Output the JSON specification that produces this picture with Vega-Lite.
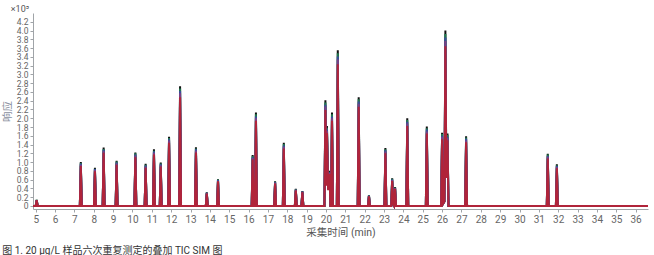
{
  "$schema": "https://vega.github.io/schema/vega-lite/v6.json",
  "autosize": "none",
  "width": 615,
  "height": 196,
  "padding": {"left": 33, "top": 13, "right": 6, "bottom": 46},
  "background": "white",
  "config": {
    "view": {"stroke": null},
    "font": "Roboto, 'Noto Sans CJK SC', sans-serif",
    "axis": {"domainColor": "#a0a4a8", "tickColor": "#a0a4a8", "labelColor": "#666", "labelFontSize": 10, "tickSize": 3, "grid": false, "titleFontWeight": "normal", "titleFontSize": 10.5}
  },
  "title": {"text": "图 1. 20 µg/L 样品六次重复测定的叠加 TIC SIM 图", "orient": "bottom", "anchor": "start", "fontSize": 10, "fontWeight": "normal", "color": "#333", "offset": 8},
  "layer": [
    {
      "data": {"values": [
        {"t":4.86,"a":0,"b":0,"c":0,"d":0,"e":0},
        {"t":5.00,"a":0,"b":0,"c":0,"d":0,"e":0},
        {"t":5.05,"a":0.14,"b":0.14,"c":0.13,"d":0.13,"e":0.13},
        {"t":5.10,"a":0,"b":0,"c":0,"d":0,"e":0},
        {"t":7.28,"a":0,"b":0,"c":0,"d":0,"e":0},
        {"t":7.33,"a":1.00,"b":0.98,"c":0.96,"d":0.94,"e":0.91},
        {"t":7.38,"a":0,"b":0,"c":0,"d":0,"e":0},
        {"t":8.01,"a":0,"b":0,"c":0,"d":0,"e":0},
        {"t":8.06,"a":0.87,"b":0.85,"c":0.84,"d":0.82,"e":0.79},
        {"t":8.11,"a":0,"b":0,"c":0,"d":0,"e":0},
        {"t":8.46,"a":0,"b":0,"c":0,"d":0,"e":0},
        {"t":8.51,"a":1.33,"b":1.30,"c":1.28,"d":1.25,"e":1.21},
        {"t":8.56,"a":0,"b":0,"c":0,"d":0,"e":0},
        {"t":9.13,"a":0,"b":0,"c":0,"d":0,"e":0},
        {"t":9.18,"a":1.03,"b":1.01,"c":0.99,"d":0.97,"e":0.94},
        {"t":9.23,"a":0,"b":0,"c":0,"d":0,"e":0},
        {"t":10.10,"a":0,"b":0,"c":0,"d":0,"e":0},
        {"t":10.15,"a":1.22,"b":1.20,"c":1.17,"d":1.15,"e":1.11},
        {"t":10.20,"a":0,"b":0,"c":0,"d":0,"e":0},
        {"t":10.63,"a":0,"b":0,"c":0,"d":0,"e":0},
        {"t":10.68,"a":0.96,"b":0.94,"c":0.92,"d":0.90,"e":0.87},
        {"t":10.73,"a":0,"b":0,"c":0,"d":0,"e":0},
        {"t":11.06,"a":0,"b":0,"c":0,"d":0,"e":0},
        {"t":11.11,"a":1.29,"b":1.26,"c":1.24,"d":1.21,"e":1.17},
        {"t":11.16,"a":0,"b":0,"c":0,"d":0,"e":0},
        {"t":11.41,"a":0,"b":0,"c":0,"d":0,"e":0},
        {"t":11.46,"a":0.99,"b":0.97,"c":0.95,"d":0.93,"e":0.90},
        {"t":11.51,"a":0,"b":0,"c":0,"d":0,"e":0},
        {"t":11.84,"a":0,"b":0,"c":0,"d":0,"e":0},
        {"t":11.89,"a":1.58,"b":1.55,"c":1.52,"d":1.49,"e":1.44},
        {"t":11.94,"a":0,"b":0,"c":0,"d":0,"e":0},
        {"t":12.41,"a":0,"b":0,"c":0,"d":0,"e":0},
        {"t":12.46,"a":2.73,"b":2.68,"c":2.62,"d":2.57,"e":2.48},
        {"t":12.51,"a":0,"b":0,"c":0,"d":0,"e":0},
        {"t":13.23,"a":0,"b":0,"c":0,"d":0,"e":0},
        {"t":13.28,"a":1.34,"b":1.31,"c":1.29,"d":1.26,"e":1.22},
        {"t":13.33,"a":0,"b":0,"c":0,"d":0,"e":0},
        {"t":13.79,"a":0,"b":0,"c":0,"d":0,"e":0},
        {"t":13.84,"a":0.31,"b":0.30,"c":0.30,"d":0.29,"e":0.28},
        {"t":13.89,"a":0,"b":0,"c":0,"d":0,"e":0},
        {"t":14.37,"a":0,"b":0,"c":0,"d":0,"e":0},
        {"t":14.42,"a":0.61,"b":0.60,"c":0.59,"d":0.57,"e":0.56},
        {"t":14.47,"a":0,"b":0,"c":0,"d":0,"e":0},
        {"t":16.16,"a":0,"b":0,"c":0,"d":0,"e":0},
        {"t":16.21,"a":1.16,"b":1.14,"c":1.11,"d":1.09,"e":1.06},
        {"t":16.26,"a":0,"b":0,"c":0,"d":0,"e":0},
        {"t":16.33,"a":0,"b":0,"c":0,"d":0,"e":0},
        {"t":16.38,"a":2.13,"b":2.09,"c":2.04,"d":2.00,"e":1.94},
        {"t":16.43,"a":0,"b":0,"c":0,"d":0,"e":0},
        {"t":17.32,"a":0,"b":0,"c":0,"d":0,"e":0},
        {"t":17.37,"a":0.56,"b":0.55,"c":0.54,"d":0.53,"e":0.51},
        {"t":17.42,"a":0,"b":0,"c":0,"d":0,"e":0},
        {"t":17.77,"a":0,"b":0,"c":0,"d":0,"e":0},
        {"t":17.82,"a":1.44,"b":1.41,"c":1.38,"d":1.35,"e":1.31},
        {"t":17.87,"a":0,"b":0,"c":0,"d":0,"e":0},
        {"t":18.39,"a":0,"b":0,"c":0,"d":0,"e":0},
        {"t":18.44,"a":0.39,"b":0.38,"c":0.37,"d":0.37,"e":0.35},
        {"t":18.49,"a":0,"b":0,"c":0,"d":0,"e":0},
        {"t":18.73,"a":0,"b":0,"c":0,"d":0,"e":0},
        {"t":18.78,"a":0.34,"b":0.33,"c":0.33,"d":0.32,"e":0.31},
        {"t":18.83,"a":0,"b":0,"c":0,"d":0,"e":0},
        {"t":19.92,"a":0,"b":0,"c":0,"d":0,"e":0},
        {"t":19.97,"a":2.41,"b":2.36,"c":2.31,"d":2.27,"e":2.19},
        {"t":20.01,"a":0.50,"b":0.49,"c":0.48,"d":0.47,"e":0.46},
        {"t":20.05,"a":1.82,"b":1.78,"c":1.75,"d":1.71,"e":1.66},
        {"t":20.11,"a":0.40,"b":0.39,"c":0.38,"d":0.38,"e":0.36},
        {"t":20.18,"a":0.80,"b":0.78,"c":0.77,"d":0.75,"e":0.73},
        {"t":20.23,"a":0,"b":0,"c":0,"d":0,"e":0},
        {"t":20.26,"a":0,"b":0,"c":0,"d":0,"e":0},
        {"t":20.31,"a":2.13,"b":2.09,"c":2.04,"d":2.00,"e":1.94},
        {"t":20.36,"a":0,"b":0,"c":0,"d":0,"e":0},
        {"t":20.56,"a":0,"b":0,"c":0,"d":0,"e":0},
        {"t":20.61,"a":3.55,"b":3.48,"c":3.41,"d":3.34,"e":3.23},
        {"t":20.66,"a":0,"b":0,"c":0,"d":0,"e":0},
        {"t":21.64,"a":0,"b":0,"c":0,"d":0,"e":0},
        {"t":21.69,"a":2.48,"b":2.43,"c":2.38,"d":2.33,"e":2.26},
        {"t":21.74,"a":0,"b":0,"c":0,"d":0,"e":0},
        {"t":22.17,"a":0,"b":0,"c":0,"d":0,"e":0},
        {"t":22.22,"a":0.24,"b":0.24,"c":0.23,"d":0.23,"e":0.22},
        {"t":22.27,"a":0,"b":0,"c":0,"d":0,"e":0},
        {"t":23.02,"a":0,"b":0,"c":0,"d":0,"e":0},
        {"t":23.07,"a":1.32,"b":1.29,"c":1.27,"d":1.24,"e":1.20},
        {"t":23.12,"a":0,"b":0,"c":0,"d":0,"e":0},
        {"t":23.37,"a":0,"b":0,"c":0,"d":0,"e":0},
        {"t":23.42,"a":0.63,"b":0.62,"c":0.60,"d":0.59,"e":0.57},
        {"t":23.48,"a":0.03,"b":0.03,"c":0.03,"d":0.03,"e":0.03},
        {"t":23.52,"a":0,"b":0,"c":0,"d":0,"e":0},
        {"t":23.57,"a":0.43,"b":0.42,"c":0.41,"d":0.40,"e":0.39},
        {"t":23.62,"a":0,"b":0,"c":0,"d":0,"e":0},
        {"t":24.15,"a":0,"b":0,"c":0,"d":0,"e":0},
        {"t":24.20,"a":2.00,"b":1.96,"c":1.92,"d":1.88,"e":1.82},
        {"t":24.25,"a":0,"b":0,"c":0,"d":0,"e":0},
        {"t":25.16,"a":0,"b":0,"c":0,"d":0,"e":0},
        {"t":25.21,"a":1.81,"b":1.77,"c":1.74,"d":1.70,"e":1.65},
        {"t":25.26,"a":0,"b":0,"c":0,"d":0,"e":0},
        {"t":25.95,"a":0,"b":0,"c":0,"d":0,"e":0},
        {"t":26.00,"a":1.67,"b":1.64,"c":1.60,"d":1.57,"e":1.52},
        {"t":26.05,"a":0.05,"b":0.05,"c":0.05,"d":0.05,"e":0.05},
        {"t":26.12,"a":0.10,"b":0.10,"c":0.10,"d":0.10,"e":0.10},
        {"t":26.17,"a":4.00,"b":3.92,"c":3.84,"d":3.76,"e":3.64},
        {"t":26.22,"a":0.70,"b":0.69,"c":0.67,"d":0.66,"e":0.64},
        {"t":26.28,"a":1.65,"b":1.62,"c":1.58,"d":1.55,"e":1.50},
        {"t":26.33,"a":0,"b":0,"c":0,"d":0,"e":0},
        {"t":27.19,"a":0,"b":0,"c":0,"d":0,"e":0},
        {"t":27.24,"a":1.59,"b":1.56,"c":1.53,"d":1.49,"e":1.45},
        {"t":27.29,"a":0,"b":0,"c":0,"d":0,"e":0},
        {"t":31.41,"a":0,"b":0,"c":0,"d":0,"e":0},
        {"t":31.46,"a":1.19,"b":1.17,"c":1.14,"d":1.12,"e":1.08},
        {"t":31.51,"a":0,"b":0,"c":0,"d":0,"e":0},
        {"t":31.88,"a":0,"b":0,"c":0,"d":0,"e":0},
        {"t":31.93,"a":0.95,"b":0.93,"c":0.91,"d":0.89,"e":0.86},
        {"t":31.98,"a":0,"b":0,"c":0,"d":0,"e":0},
        {"t":36.64,"a":0,"b":0,"c":0,"d":0,"e":0}
      ]},
      "transform": [{"fold": ["a", "b", "c", "d", "e"], "as": ["run", "v"]}],
      "mark": {"type": "line", "strokeWidth": 2, "strokeJoin": "miter", "clip": true},
      "encoding": {
        "x": {"field": "t", "type": "quantitative", "scale": {"domain": [4.86, 36.64], "nice": false, "zero": false},
          "axis": {"values": [5,6,7,8,9,10,11,12,13,14,15,16,17,18,19,20,21,22,23,24,25,26,27,28,29,30,31,32,33,34,35,36], "tickCount": 100, "format": "d", "labelOverlap": false, "labelFlush": false, "labelFontSize": 10, "title": "采集时间 (min)", "titleColor": "#555", "labelPadding": 2, "titlePadding": 3}},
        "y": {"field": "v", "type": "quantitative", "scale": {"domain": [-0.07, 4.4], "nice": false, "zero": false},
          "axis": {"values": [0,0.2,0.4,0.6,0.8,1.0,1.2,1.4,1.6,1.8,2.0,2.2,2.4,2.6,2.8,3.0,3.2,3.4,3.6,3.8,4.0,4.2], "tickCount": 100, "labelOverlap": false, "labelFlush": false, "labelFontSize": 8.5, "labelExpr": "datum.value == 0 ? '0' : format(datum.value, '.1f')", "title": "响应", "titleColor": "#8a90a0", "labelPadding": 2, "titlePadding": 4}},
        "color": {"field": "run", "type": "nominal", "legend": null, "scale": {"domain": ["a","b","c","d","e"], "range": ["#111111", "#1e7a50", "#3a4c9c", "#7a3f86", "#b0243a"]}},
        "order": {"field": "t", "type": "quantitative"}
      }
    },
    {
      "data": {"values": [{"label": "×10⁵"}]},
      "mark": {"type": "text", "align": "right", "baseline": "middle", "dx": -4, "dy": -4, "fontSize": 9, "color": "#555"},
      "encoding": {
        "x": {"datum": 4.86, "type": "quantitative"},
        "y": {"datum": 4.4, "type": "quantitative"},
        "text": {"field": "label"}
      }
    }
  ]
}
